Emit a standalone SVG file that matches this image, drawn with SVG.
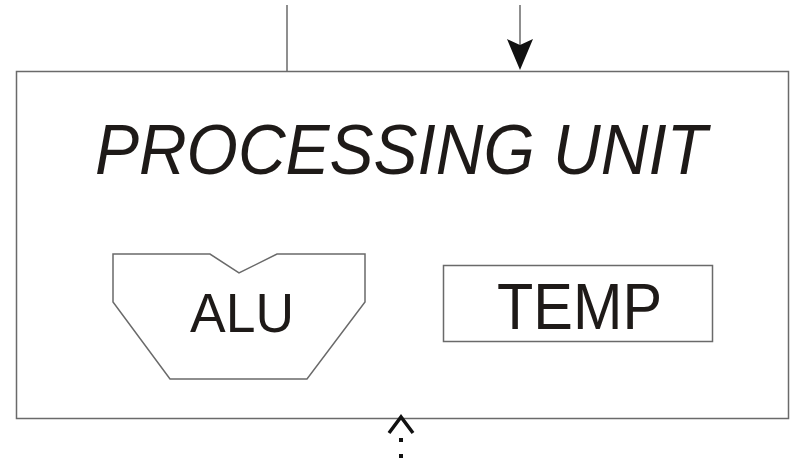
<svg xmlns="http://www.w3.org/2000/svg" width="790" height="463" viewBox="0 0 790 463">
  <style>
    .box { fill: none; stroke: #6a6a6a; stroke-width: 1.5; }
    .wire { fill: none; stroke: #6a6a6a; stroke-width: 1.5; }
    .label { font-family: "Liberation Sans", Arial, sans-serif; fill: #1e1a18; }
  </style>
  <rect width="790" height="463" fill="#ffffff"/>

  <g id="processing-unit">
    <rect class="box" x="16.5" y="71.5" width="772" height="347"/>
    <text class="label" x="95" y="174" font-size="71" font-style="italic" textLength="612" lengthAdjust="spacingAndGlyphs">PROCESSING UNIT</text>
  </g>

  <g id="alu">
    <polygon class="box" points="113,254 210,254 239,273 277,254 365,254 365,302 307,379 170,379 113,302"/>
    <text class="label" x="190" y="332" font-size="55" textLength="104" lengthAdjust="spacingAndGlyphs">ALU</text>
  </g>

  <g id="temp">
    <rect class="box" x="443.5" y="265.5" width="269" height="76"/>
    <text class="label" x="497" y="329" font-size="64" textLength="165" lengthAdjust="spacingAndGlyphs">TEMP</text>
  </g>

  <g id="connectors">
    <line class="wire" x1="287" y1="5" x2="287" y2="71"/>
    <line class="wire" x1="520" y1="5" x2="520" y2="60"/>
    <polygon points="507,39 520,45 533,39 520,70" fill="#111"/>
    <polyline points="389,433 401,417 413,433" fill="none" stroke="#111" stroke-width="3.5"/>
    <line x1="401" y1="438" x2="401" y2="463" stroke="#111" stroke-width="4" stroke-dasharray="4 12"/>
  </g>
</svg>
